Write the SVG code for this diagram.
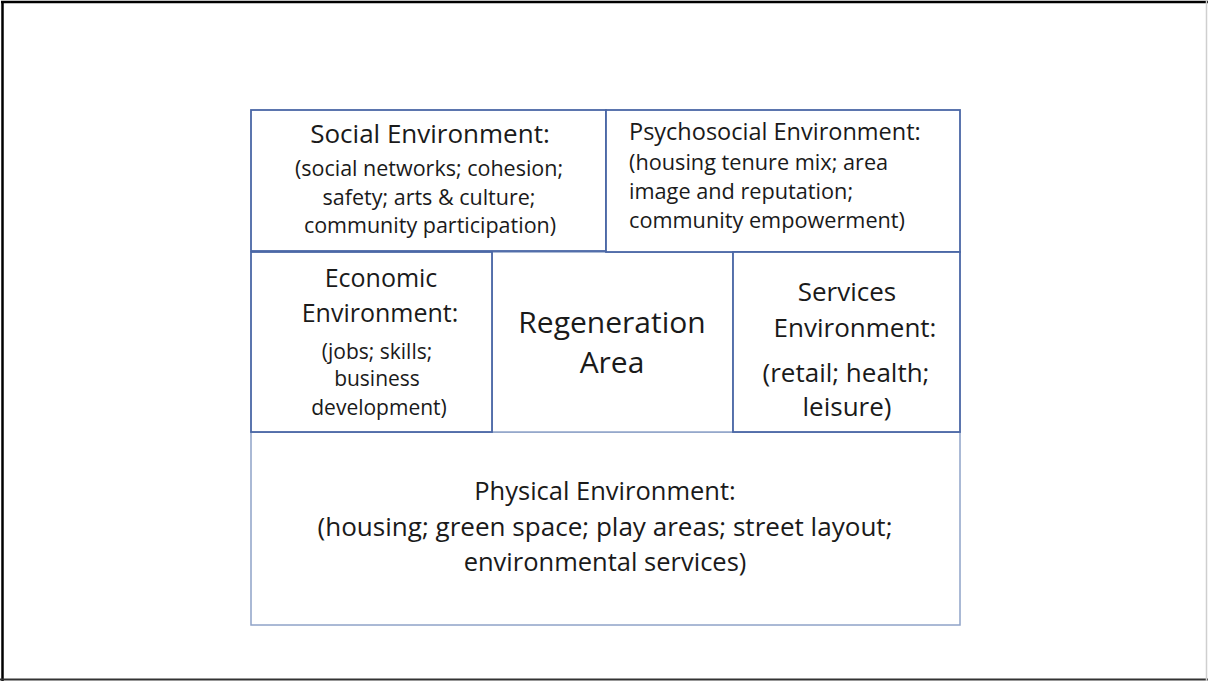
<svg xmlns="http://www.w3.org/2000/svg" width="1208" height="681" viewBox="0 0 1208 681">
<style>
.box{fill:#ffffff;stroke:#4a67a6;stroke-width:1.8}
.lbox{fill:#ffffff;stroke:#8fa3c8;stroke-width:1.5}
text{font-family:"Open Sans","Noto Sans","Liberation Sans",sans-serif;fill:#1a1a1a}
.c{text-anchor:middle}
</style>
<rect x="0" y="0" width="1208" height="681" fill="#ffffff"/>
<g id="frame">
<line x1="2.5" y1="1" x2="2.5" y2="681" stroke="#000" stroke-width="2.5"/>
<line x1="1" y1="2" x2="1208" y2="2" stroke="#000" stroke-width="2.5"/>
<line x1="0" y1="679.5" x2="1208" y2="679.5" stroke="#333" stroke-width="2"/>
<line x1="1206.5" y1="0" x2="1206.5" y2="681" stroke="#cfcfcf" stroke-width="1.5"/>
</g>
<g id="physical">
<rect class="lbox" x="251" y="432" width="709" height="193"/>
<text class="c" x="605" y="500" font-size="25.5">Physical Environment:</text>
<text class="c" x="605" y="536" font-size="25" textLength="575" lengthAdjust="spacingAndGlyphs">(housing; green space; play areas; street layout;</text>
<text class="c" x="605" y="571" font-size="25.5">environmental services)</text>
</g>
<g id="regeneration">
<rect class="lbox" x="492" y="252" width="241" height="180"/>
<text class="c" x="612" y="333" font-size="30">Regeneration</text>
<text class="c" x="612" y="373" font-size="30">Area</text>
</g>
<g id="social">
<rect class="box" x="251" y="110" width="355" height="141"/>
<text class="c" x="430" y="143" font-size="26">Social Environment:</text>
<text class="c" x="429" y="176" font-size="21.5">(social networks; cohesion;</text>
<text class="c" x="429" y="205" font-size="21.5">safety; arts &amp; culture;</text>
<text class="c" x="430" y="233" font-size="21.5">community participation)</text>
</g>
<g id="psychosocial">
<rect class="box" x="606" y="110" width="354" height="142"/>
<text x="629" y="140" font-size="23.5">Psychosocial Environment:</text>
<text x="629" y="170" font-size="21.7">(housing tenure mix; area</text>
<text x="629" y="199" font-size="21.7">image and reputation;</text>
<text x="629" y="228" font-size="21.7">community empowerment)</text>
</g>
<g id="economic">
<rect class="box" x="251" y="252" width="241" height="180"/>
<text class="c" x="381" y="287" font-size="25">Economic</text>
<text class="c" x="380" y="322" font-size="25">Environment:</text>
<text class="c" x="377" y="359" font-size="21">(jobs; skills;</text>
<text class="c" x="377" y="386" font-size="21">business</text>
<text class="c" x="379" y="415" font-size="21">development)</text>
</g>
<g id="services">
<rect class="box" x="733" y="252" width="227" height="180"/>
<text class="c" x="847" y="301" font-size="26">Services</text>
<text class="c" x="855" y="337" font-size="26">Environment:</text>
<text class="c" x="846" y="382" font-size="26">(retail; health;</text>
<text class="c" x="847" y="416" font-size="26">leisure)</text>
</g>
<g id="connectors"></g>
</svg>
